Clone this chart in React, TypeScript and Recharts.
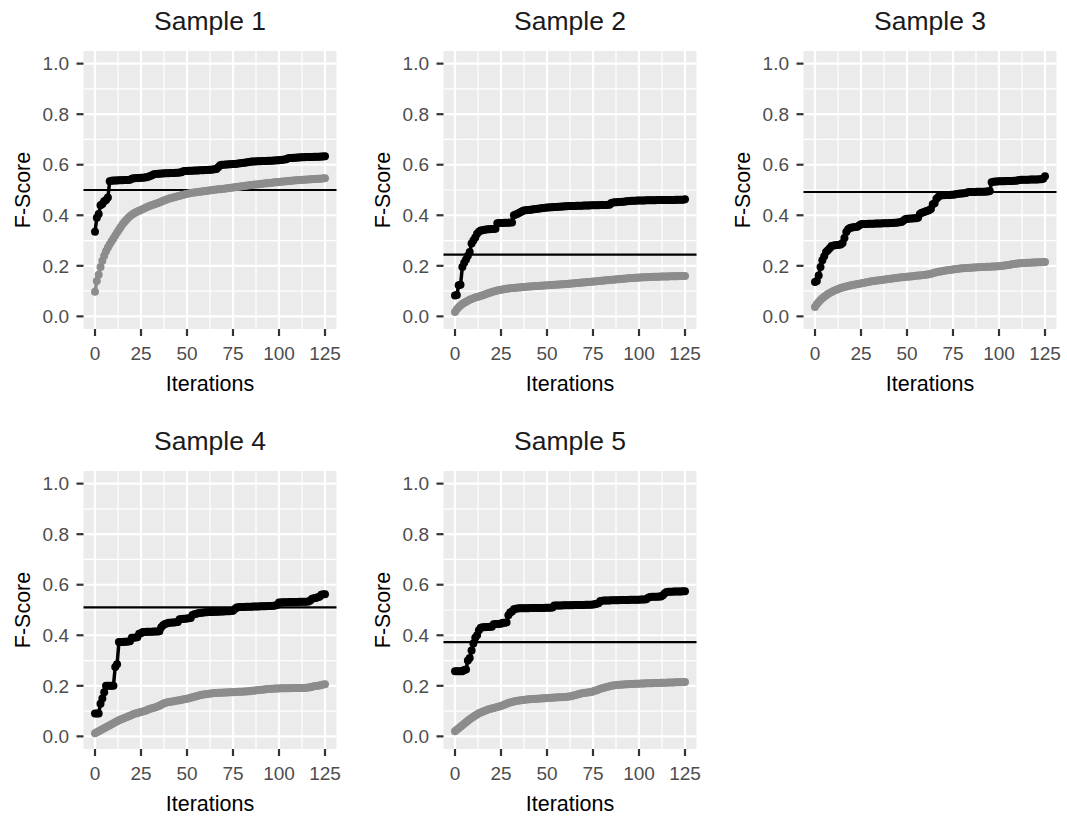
import React from 'react';
import { LineChart, Line, XAxis, YAxis, CartesianGrid, ReferenceLine } from 'recharts';

// Best F-score so far (black) and mean F-score (grey) per iteration, one pair per sample
const black1 = [
  0.335, 0.39, 0.405, 0.44, 0.445, 0.455, 0.46, 0.47, 0.535, 0.537,
  0.538, 0.538, 0.538, 0.539, 0.539, 0.539, 0.54, 0.54, 0.54, 0.541,
  0.545, 0.546, 0.546, 0.547, 0.547, 0.548, 0.548, 0.549, 0.55, 0.552,
  0.555, 0.558, 0.562, 0.563, 0.564, 0.564, 0.565, 0.565, 0.566, 0.566,
  0.566, 0.567, 0.567, 0.567, 0.568, 0.568, 0.569, 0.57, 0.574, 0.575,
  0.575, 0.576, 0.576, 0.576, 0.577, 0.577, 0.577, 0.578, 0.578, 0.578,
  0.579, 0.579, 0.58, 0.58, 0.581, 0.582, 0.583, 0.59, 0.598, 0.6,
  0.6, 0.601, 0.601, 0.602, 0.602, 0.603, 0.603, 0.604, 0.605, 0.606,
  0.607, 0.608, 0.609, 0.61, 0.611, 0.613, 0.613, 0.613, 0.614, 0.614,
  0.614, 0.615, 0.615, 0.615, 0.616, 0.616, 0.616, 0.617, 0.617, 0.618,
  0.618, 0.619, 0.62, 0.621, 0.622, 0.626, 0.627, 0.627, 0.628, 0.628,
  0.629, 0.629, 0.63, 0.63, 0.63, 0.631, 0.631, 0.631, 0.631, 0.632,
  0.632, 0.632, 0.632, 0.633, 0.633, 0.634,
];
const grey1 = [
  0.097, 0.14, 0.165, 0.195, 0.22, 0.24, 0.258, 0.272, 0.285, 0.297,
  0.308, 0.32, 0.332, 0.343, 0.354, 0.364, 0.373, 0.381, 0.389, 0.396,
  0.402, 0.407, 0.411, 0.415, 0.418, 0.421, 0.425, 0.428, 0.432, 0.435,
  0.438, 0.441, 0.443, 0.446, 0.448, 0.451, 0.454, 0.457, 0.459, 0.462,
  0.465, 0.467, 0.469, 0.471, 0.473, 0.475, 0.477, 0.479, 0.481, 0.483,
  0.485, 0.486, 0.488, 0.489, 0.49, 0.491, 0.492, 0.493, 0.494, 0.495,
  0.496, 0.497, 0.498, 0.499, 0.5, 0.501, 0.502, 0.503, 0.503, 0.504,
  0.505, 0.506, 0.507, 0.508, 0.509, 0.51, 0.511, 0.512, 0.513, 0.514,
  0.515, 0.516, 0.517, 0.518, 0.519, 0.52, 0.521, 0.522, 0.522, 0.523,
  0.524, 0.525, 0.526, 0.527, 0.527, 0.528, 0.529, 0.53, 0.531, 0.531,
  0.532, 0.533, 0.534, 0.534, 0.535, 0.536, 0.537, 0.537, 0.538, 0.539,
  0.539, 0.54, 0.54, 0.541, 0.541, 0.542, 0.542, 0.543, 0.543, 0.544,
  0.544, 0.545, 0.545, 0.545, 0.546, 0.546,
];
const black2 = [
  0.083, 0.085, 0.123, 0.125, 0.195, 0.212, 0.225, 0.24, 0.255, 0.288,
  0.3, 0.312, 0.327, 0.335, 0.34, 0.341, 0.343, 0.344, 0.345, 0.345,
  0.346, 0.346, 0.347, 0.368, 0.369, 0.369, 0.369, 0.37, 0.37, 0.37,
  0.371, 0.371, 0.4, 0.403, 0.406, 0.41, 0.414, 0.418, 0.42, 0.42,
  0.421, 0.422, 0.423, 0.424, 0.425, 0.426, 0.427, 0.428, 0.429, 0.43,
  0.431, 0.431, 0.432, 0.432, 0.433, 0.433, 0.434, 0.434, 0.435, 0.435,
  0.436, 0.436, 0.437, 0.437, 0.437, 0.437, 0.438, 0.438, 0.438, 0.438,
  0.439, 0.439, 0.439, 0.439, 0.44, 0.44, 0.44, 0.44, 0.44, 0.441,
  0.441, 0.441, 0.441, 0.442, 0.442, 0.449, 0.451, 0.452, 0.452, 0.453,
  0.453, 0.454, 0.454, 0.455, 0.455, 0.456, 0.457, 0.457, 0.457, 0.458,
  0.458, 0.458, 0.458, 0.458, 0.459, 0.459, 0.459, 0.459, 0.459, 0.459,
  0.46, 0.46, 0.46, 0.46, 0.46, 0.46, 0.46, 0.46, 0.46, 0.46,
  0.461, 0.461, 0.461, 0.461, 0.461, 0.463,
];
const grey2 = [
  0.017, 0.028, 0.036, 0.043, 0.049, 0.054, 0.058, 0.062, 0.066, 0.069,
  0.072, 0.075, 0.077, 0.079, 0.081, 0.084, 0.086, 0.088, 0.091, 0.093,
  0.096, 0.098, 0.1, 0.102, 0.104, 0.105, 0.106, 0.108, 0.109, 0.11,
  0.111, 0.112, 0.112, 0.113, 0.114, 0.114, 0.115, 0.116, 0.116, 0.117,
  0.118, 0.118, 0.119, 0.119, 0.12, 0.12, 0.121, 0.121, 0.122, 0.122,
  0.123, 0.123, 0.124, 0.124, 0.125, 0.125, 0.126, 0.126, 0.127, 0.127,
  0.128, 0.128, 0.129, 0.13, 0.13, 0.131, 0.132, 0.132, 0.133, 0.134,
  0.134, 0.135, 0.136, 0.136, 0.137, 0.138, 0.138, 0.139, 0.14, 0.141,
  0.141, 0.142, 0.143, 0.143, 0.144, 0.145, 0.145, 0.146, 0.147, 0.147,
  0.148, 0.149, 0.149, 0.15, 0.151, 0.151, 0.152, 0.152, 0.153, 0.153,
  0.154, 0.154, 0.155, 0.155, 0.155, 0.156, 0.156, 0.156, 0.157, 0.157,
  0.157, 0.157, 0.158, 0.158, 0.158, 0.158, 0.158, 0.159, 0.159, 0.159,
  0.159, 0.159, 0.16, 0.16, 0.16, 0.16,
];
const black3 = [
  0.136, 0.14, 0.162, 0.195, 0.222, 0.238, 0.255, 0.262, 0.27, 0.278,
  0.28, 0.281, 0.282, 0.283, 0.284, 0.29, 0.31, 0.334, 0.345, 0.35,
  0.352, 0.353, 0.354, 0.355, 0.36, 0.364, 0.365, 0.365, 0.365, 0.366,
  0.366, 0.366, 0.366, 0.367, 0.367, 0.367, 0.367, 0.368, 0.368, 0.368,
  0.368, 0.369, 0.369, 0.37, 0.37, 0.371, 0.372, 0.373, 0.378, 0.384,
  0.386, 0.386, 0.387, 0.387, 0.388, 0.388, 0.39, 0.405, 0.41, 0.412,
  0.415, 0.418, 0.42, 0.425, 0.444, 0.448, 0.465, 0.472, 0.478, 0.479,
  0.479, 0.48, 0.48, 0.48, 0.481, 0.481, 0.482, 0.484, 0.485, 0.486,
  0.486, 0.487, 0.488, 0.491, 0.492, 0.492, 0.492, 0.492, 0.493, 0.493,
  0.493, 0.493, 0.493, 0.494, 0.494, 0.496, 0.531, 0.533, 0.534, 0.534,
  0.535, 0.535, 0.535, 0.535, 0.536, 0.536, 0.536, 0.536, 0.537, 0.537,
  0.538, 0.54, 0.541, 0.541, 0.541, 0.541, 0.541, 0.542, 0.542, 0.542,
  0.542, 0.542, 0.543, 0.543, 0.545, 0.554,
];
const grey3 = [
  0.037, 0.048, 0.057, 0.065, 0.072, 0.078, 0.083, 0.088, 0.092, 0.096,
  0.1, 0.103, 0.106, 0.109, 0.112, 0.114, 0.116, 0.118, 0.12, 0.122,
  0.123, 0.125, 0.126, 0.128, 0.129, 0.13, 0.132, 0.133, 0.135, 0.136,
  0.138, 0.139, 0.14, 0.141, 0.142, 0.143, 0.144, 0.145, 0.146, 0.147,
  0.148, 0.149, 0.15, 0.151, 0.152, 0.153, 0.154, 0.155, 0.155, 0.156,
  0.157, 0.158, 0.158, 0.159, 0.16, 0.161, 0.162, 0.162, 0.163, 0.164,
  0.165, 0.166, 0.167, 0.169, 0.171, 0.173, 0.175, 0.177, 0.178, 0.179,
  0.18, 0.181, 0.182, 0.183, 0.184, 0.185, 0.186, 0.187, 0.188, 0.189,
  0.19, 0.19, 0.191, 0.191, 0.192, 0.192, 0.193, 0.193, 0.194, 0.194,
  0.195, 0.195, 0.195, 0.196, 0.196, 0.196, 0.197, 0.197, 0.197, 0.198,
  0.198, 0.199, 0.2, 0.201, 0.202, 0.203, 0.204, 0.206, 0.207, 0.208,
  0.209, 0.21, 0.21, 0.211, 0.211, 0.212, 0.212, 0.212, 0.213, 0.213,
  0.213, 0.214, 0.214, 0.214, 0.215, 0.215,
];
const black4 = [
  0.09, 0.09, 0.09, 0.129, 0.15, 0.175, 0.2, 0.2, 0.2, 0.2,
  0.2, 0.274, 0.285, 0.373, 0.373, 0.373, 0.374, 0.374, 0.375, 0.376,
  0.39, 0.39, 0.391, 0.392, 0.406, 0.408, 0.413, 0.413, 0.414, 0.414,
  0.414, 0.414, 0.415, 0.415, 0.415, 0.416, 0.432, 0.44, 0.445, 0.447,
  0.45, 0.45, 0.451, 0.451, 0.452, 0.453, 0.463, 0.464, 0.465, 0.465,
  0.466, 0.467, 0.468, 0.48, 0.483, 0.485, 0.487, 0.488, 0.489, 0.49,
  0.491, 0.491, 0.492, 0.492, 0.492, 0.493, 0.493, 0.493, 0.494, 0.494,
  0.494, 0.495, 0.495, 0.495, 0.496, 0.497, 0.504, 0.51, 0.511, 0.512,
  0.512, 0.512, 0.513, 0.513, 0.513, 0.513, 0.514, 0.514, 0.514, 0.514,
  0.515, 0.515, 0.515, 0.515, 0.516, 0.516, 0.516, 0.517, 0.518, 0.52,
  0.53, 0.53, 0.531, 0.531, 0.531, 0.531, 0.532, 0.532, 0.532, 0.532,
  0.532, 0.533, 0.533, 0.533, 0.533, 0.533, 0.534, 0.538, 0.545, 0.546,
  0.547, 0.55, 0.552, 0.56, 0.562, 0.562,
];
const grey4 = [
  0.012, 0.016, 0.02, 0.024, 0.028, 0.032, 0.036, 0.04, 0.044, 0.048,
  0.052, 0.056, 0.06, 0.064, 0.067, 0.07, 0.073, 0.076, 0.079, 0.082,
  0.085, 0.088, 0.09, 0.092, 0.094, 0.096, 0.098, 0.1, 0.103, 0.106,
  0.109, 0.111, 0.113, 0.115, 0.118, 0.121, 0.125, 0.129, 0.132, 0.134,
  0.136, 0.137, 0.138, 0.139, 0.141, 0.142, 0.143, 0.145, 0.146, 0.148,
  0.149, 0.151, 0.153, 0.155, 0.157, 0.159, 0.161, 0.163, 0.165, 0.166,
  0.167, 0.168, 0.169, 0.17, 0.171, 0.172, 0.172, 0.173, 0.173, 0.173,
  0.174, 0.174, 0.174, 0.175, 0.175, 0.175, 0.176, 0.176, 0.177, 0.177,
  0.177, 0.178, 0.178, 0.179, 0.179, 0.18, 0.18, 0.181, 0.182, 0.183,
  0.184, 0.184, 0.185, 0.186, 0.187, 0.187, 0.188, 0.188, 0.189, 0.189,
  0.189, 0.19, 0.19, 0.19, 0.19, 0.19, 0.19, 0.191, 0.191, 0.191,
  0.191, 0.191, 0.191, 0.191, 0.191, 0.192, 0.193, 0.194, 0.196, 0.198,
  0.199, 0.2, 0.201, 0.203, 0.205, 0.206,
];
const black5 = [
  0.258, 0.258, 0.258, 0.258, 0.258, 0.263, 0.265, 0.3, 0.31, 0.34,
  0.367, 0.39, 0.4, 0.42, 0.43, 0.432, 0.432, 0.433, 0.433, 0.434,
  0.434, 0.444, 0.445, 0.445, 0.446, 0.446, 0.45, 0.45, 0.451, 0.479,
  0.49, 0.494, 0.503, 0.505, 0.506, 0.507, 0.507, 0.507, 0.507, 0.507,
  0.507, 0.508, 0.508, 0.508, 0.508, 0.508, 0.508, 0.508, 0.508, 0.509,
  0.509, 0.509, 0.509, 0.51, 0.518, 0.518, 0.518, 0.518, 0.518, 0.519,
  0.519, 0.519, 0.519, 0.519, 0.519, 0.52, 0.52, 0.52, 0.52, 0.52,
  0.52, 0.521, 0.521, 0.521, 0.521, 0.522, 0.523, 0.525, 0.527, 0.536,
  0.537, 0.538, 0.538, 0.538, 0.538, 0.539, 0.539, 0.539, 0.539, 0.539,
  0.54, 0.54, 0.54, 0.54, 0.54, 0.541, 0.541, 0.541, 0.541, 0.541,
  0.541, 0.542, 0.542, 0.542, 0.543, 0.548, 0.551, 0.552, 0.552, 0.552,
  0.552, 0.553, 0.553, 0.558, 0.566, 0.571, 0.572, 0.572, 0.572, 0.573,
  0.573, 0.573, 0.573, 0.573, 0.574, 0.574,
];
const grey5 = [
  0.02, 0.026, 0.032, 0.038, 0.044, 0.05, 0.056, 0.062, 0.068, 0.073,
  0.078, 0.083, 0.087, 0.091, 0.094, 0.097, 0.1, 0.103, 0.106, 0.108,
  0.11, 0.112, 0.114, 0.116, 0.118, 0.12, 0.123, 0.126, 0.129, 0.132,
  0.134, 0.136, 0.138, 0.14, 0.141, 0.142, 0.143, 0.144, 0.145, 0.146,
  0.147, 0.147, 0.148, 0.148, 0.149, 0.149, 0.15, 0.15, 0.151, 0.151,
  0.152, 0.152, 0.153, 0.153, 0.154, 0.154, 0.155, 0.155, 0.155, 0.156,
  0.156, 0.157, 0.158, 0.159, 0.161, 0.163, 0.165, 0.167, 0.169, 0.171,
  0.172, 0.173, 0.174, 0.175, 0.176, 0.178, 0.18, 0.182, 0.185, 0.188,
  0.19, 0.192, 0.194, 0.196, 0.198, 0.2, 0.201, 0.202, 0.203, 0.204,
  0.204, 0.205, 0.205, 0.206, 0.206, 0.207, 0.207, 0.207, 0.208, 0.208,
  0.208, 0.209, 0.209, 0.209, 0.21, 0.21, 0.21, 0.21, 0.211, 0.211,
  0.211, 0.211, 0.212, 0.212, 0.212, 0.212, 0.213, 0.213, 0.213, 0.213,
  0.214, 0.214, 0.214, 0.214, 0.215, 0.215,
];

const titles = ['Sample 1', 'Sample 2', 'Sample 3', 'Sample 4', 'Sample 5'];
const baselines = [0.5, 0.244, 0.492, 0.51, 0.373];
const blacks = [black1, black2, black3, black4, black5];
const greys = [grey1, grey2, grey3, grey4, grey5];

const xTicks = [0, 25, 50, 75, 100, 125];
const xMinor = [12.5, 37.5, 62.5, 87.5, 112.5];
const yTicks = [0, 0.2, 0.4, 0.6, 0.8, 1.0];
const yMinor = [0.1, 0.3, 0.5, 0.7, 0.9];

const FONT = '"Liberation Sans", Arial, Helvetica, sans-serif';
const COL_W = 360;
const ROW_H = 420;
const PLOT_W = 253;
const Y_AXIS_W = 83.5;

function Panel({ index }: { index: number }) {
  const col = index % 3;
  const row = Math.floor(index / 3);
  const width = col === 2 ? 1067 - 2 * COL_W : COL_W;
  const data = blacks[index].map((b, i) => ({ iter: i, best: b, mean: greys[index][i] }));

  return (
    <div style={{ position: 'absolute', left: col * COL_W, top: row * ROW_H }}>
      <LineChart
        width={width}
        height={410}
        data={data}
        margin={{ top: 51, right: width - Y_AXIS_W - PLOT_W, bottom: 0, left: 0 }}
      >
        <CartesianGrid
          fill="#EBEBEB"
          stroke="#FFFFFF"
          strokeWidth={1.2}
          horizontalValues={yMinor}
          verticalValues={xMinor}
        />
        <CartesianGrid
          stroke="#FFFFFF"
          strokeWidth={2.2}
          horizontalValues={yTicks}
          verticalValues={xTicks}
        />
        <XAxis
          type="number"
          dataKey="iter"
          domain={[-6.25, 131.25]}
          ticks={xTicks}
          allowDataOverflow
          height={81}
          axisLine={false}
          tickSize={7}
          tickMargin={10.5}
          tickLine={{ stroke: '#333333', strokeWidth: 2.2 }}
          tick={{ fill: '#4D4D4D', fontSize: 19, fontFamily: FONT }}
        />
        <YAxis
          type="number"
          domain={[-0.05, 1.05]}
          ticks={yTicks}
          allowDataOverflow
          width={Y_AXIS_W}
          axisLine={false}
          tickSize={7}
          tickMargin={7.5}
          tickLine={{ stroke: '#333333', strokeWidth: 2.2 }}
          tick={{ fill: '#4D4D4D', fontSize: 19, fontFamily: FONT }}
          tickFormatter={(v: number) => v.toFixed(1)}
        />
        <Line
          dataKey="mean"
          type="linear"
          stroke="#8C8C8C"
          strokeWidth={3.5}
          dot={{ r: 4, fill: '#8C8C8C', stroke: 'none' }}
          isAnimationActive={false}
        />
        <Line
          dataKey="best"
          type="linear"
          stroke="#000000"
          strokeWidth={3.5}
          dot={{ r: 4, fill: '#000000', stroke: 'none' }}
          isAnimationActive={false}
        />
        <ReferenceLine y={baselines[index]} stroke="#000000" strokeWidth={2.2} />
      </LineChart>
    </div>
  );
}

export default function App() {
  return (
    <div
      style={{
        position: 'absolute',
        left: 0,
        top: 0,
        width: 1067,
        height: 816,
        overflow: 'hidden',
        background: '#FFFFFF',
        fontFamily: FONT,
      }}
    >
      {titles.map((_, i) => (
        <Panel key={i} index={i} />
      ))}
      <svg
        width={1067}
        height={816}
        style={{ position: 'absolute', left: 0, top: 0, pointerEvents: 'none' }}
      >
        {titles.map((t, i) => {
          const cx = (i % 3) * COL_W + Y_AXIS_W + PLOT_W / 2;
          const top = Math.floor(i / 3) * ROW_H;
          const lx = (i % 3) * COL_W + 30;
          return (
            <g key={t} fontFamily={FONT}>
              <text x={cx} y={top + 29.5} textAnchor="middle" fontSize={26.5} fill="#1A1A1A">
                {t}
              </text>
              <text x={cx} y={top + 390.5} textAnchor="middle" fontSize={21.5} fill="#000000">
                Iterations
              </text>
              <text
                transform={`translate(${lx}, ${top + 190}) rotate(-90)`}
                textAnchor="middle"
                fontSize={21.5}
                fill="#000000"
              >
                F-Score
              </text>
            </g>
          );
        })}
      </svg>
    </div>
  );
}
